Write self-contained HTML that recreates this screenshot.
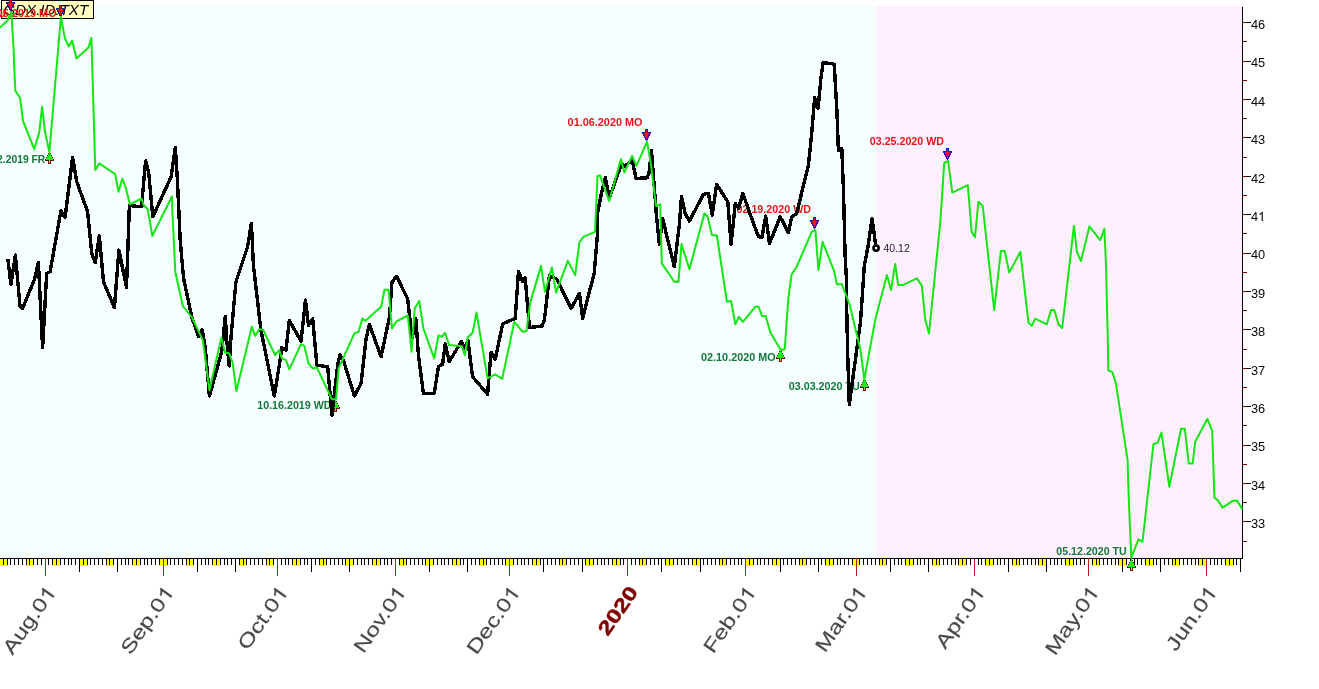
<!DOCTYPE html>
<html><head><meta charset="utf-8"><title>chart</title>
<style>
html,body{margin:0;padding:0;background:#fff;}
body{width:1319px;height:689px;position:relative;overflow:hidden;font-family:"Liberation Sans",sans-serif;}
svg{will-change:transform;}
svg text{font-family:"Liberation Sans",sans-serif;}
</style></head><body>
<svg width="1319" height="689" viewBox="0 0 1319 689" style="position:absolute;left:0;top:0">
<rect x="0" y="6" width="876" height="552" fill="#f5ffff"/>
<rect x="876" y="6" width="366" height="552" fill="#fff0ff"/>
<g shape-rendering="crispEdges">
<rect x="0" y="559" width="7" height="7" fill="#ffff00"/>
<rect x="26" y="559" width="7" height="7" fill="#ffff00"/>
<rect x="52" y="559" width="8" height="7" fill="#ffff00"/>
<rect x="79" y="559" width="8" height="7" fill="#ffff00"/>
<rect x="106" y="559" width="7" height="7" fill="#ffff00"/>
<rect x="132" y="559" width="8" height="7" fill="#ffff00"/>
<rect x="159" y="559" width="8" height="7" fill="#ffff00"/>
<rect x="186" y="559" width="7" height="7" fill="#ffff00"/>
<rect x="212" y="559" width="8" height="7" fill="#ffff00"/>
<rect x="239" y="559" width="7" height="7" fill="#ffff00"/>
<rect x="266" y="559" width="7" height="7" fill="#ffff00"/>
<rect x="292" y="559" width="8" height="7" fill="#ffff00"/>
<rect x="319" y="559" width="7" height="7" fill="#ffff00"/>
<rect x="345" y="559" width="8" height="7" fill="#ffff00"/>
<rect x="372" y="559" width="8" height="7" fill="#ffff00"/>
<rect x="399" y="559" width="7" height="7" fill="#ffff00"/>
<rect x="425" y="559" width="8" height="7" fill="#ffff00"/>
<rect x="452" y="559" width="8" height="7" fill="#ffff00"/>
<rect x="479" y="559" width="7" height="7" fill="#ffff00"/>
<rect x="505" y="559" width="8" height="7" fill="#ffff00"/>
<rect x="532" y="559" width="8" height="7" fill="#ffff00"/>
<rect x="559" y="559" width="7" height="7" fill="#ffff00"/>
<rect x="585" y="559" width="8" height="7" fill="#ffff00"/>
<rect x="612" y="559" width="8" height="7" fill="#ffff00"/>
<rect x="639" y="559" width="7" height="7" fill="#ffff00"/>
<rect x="665" y="559" width="8" height="7" fill="#ffff00"/>
<rect x="692" y="559" width="8" height="7" fill="#ffff00"/>
<rect x="719" y="559" width="7" height="7" fill="#ffff00"/>
<rect x="745" y="559" width="8" height="7" fill="#ffff00"/>
<rect x="772" y="559" width="8" height="7" fill="#ffff00"/>
<rect x="799" y="559" width="7" height="7" fill="#ffff00"/>
<rect x="825" y="559" width="8" height="7" fill="#ffff00"/>
<rect x="852" y="559" width="7" height="7" fill="#ffff00"/>
<rect x="879" y="559" width="7" height="7" fill="#ffff00"/>
<rect x="905" y="559" width="8" height="7" fill="#ffff00"/>
<rect x="932" y="559" width="7" height="7" fill="#ffff00"/>
<rect x="958" y="559" width="8" height="7" fill="#ffff00"/>
<rect x="985" y="559" width="8" height="7" fill="#ffff00"/>
<rect x="1012" y="559" width="7" height="7" fill="#ffff00"/>
<rect x="1038" y="559" width="8" height="7" fill="#ffff00"/>
<rect x="1065" y="559" width="8" height="7" fill="#ffff00"/>
<rect x="1092" y="559" width="7" height="7" fill="#ffff00"/>
<rect x="1118" y="559" width="8" height="7" fill="#ffff00"/>
<rect x="1145" y="559" width="8" height="7" fill="#ffff00"/>
<rect x="1172" y="559" width="7" height="7" fill="#ffff00"/>
<rect x="1198" y="559" width="8" height="7" fill="#ffff00"/>
<rect x="1225" y="559" width="8" height="7" fill="#ffff00"/>
<rect x="0" y="558" width="1242" height="1" fill="#000"/>
<rect x="3" y="558" width="1" height="7" fill="#000"/>
<rect x="7" y="558" width="1" height="7" fill="#000"/>
<rect x="10" y="558" width="1" height="7" fill="#000"/>
<rect x="14" y="558" width="1" height="7" fill="#000"/>
<rect x="18" y="558" width="1" height="7" fill="#000"/>
<rect x="22" y="558" width="1" height="7" fill="#000"/>
<rect x="26" y="558" width="1" height="7" fill="#000"/>
<rect x="29" y="558" width="1" height="7" fill="#000"/>
<rect x="33" y="558" width="1" height="7" fill="#000"/>
<rect x="37" y="558" width="1" height="7" fill="#000"/>
<rect x="41" y="558" width="1" height="7" fill="#000"/>
<rect x="45" y="558" width="1" height="18" fill="#b22222"/>
<rect x="48" y="558" width="1" height="7" fill="#000"/>
<rect x="52" y="558" width="1" height="7" fill="#000"/>
<rect x="56" y="558" width="1" height="7" fill="#000"/>
<rect x="60" y="558" width="1" height="7" fill="#000"/>
<rect x="64" y="558" width="1" height="7" fill="#000"/>
<rect x="68" y="558" width="1" height="7" fill="#000"/>
<rect x="71" y="558" width="1" height="7" fill="#000"/>
<rect x="75" y="558" width="1" height="7" fill="#000"/>
<rect x="79" y="558" width="1" height="14" fill="#000"/>
<rect x="83" y="558" width="1" height="7" fill="#000"/>
<rect x="87" y="558" width="1" height="7" fill="#000"/>
<rect x="90" y="558" width="1" height="7" fill="#000"/>
<rect x="94" y="558" width="1" height="7" fill="#000"/>
<rect x="98" y="558" width="1" height="7" fill="#000"/>
<rect x="102" y="558" width="1" height="7" fill="#000"/>
<rect x="106" y="558" width="1" height="7" fill="#000"/>
<rect x="109" y="558" width="1" height="7" fill="#000"/>
<rect x="113" y="558" width="1" height="7" fill="#000"/>
<rect x="117" y="558" width="1" height="14" fill="#000"/>
<rect x="121" y="558" width="1" height="7" fill="#000"/>
<rect x="125" y="558" width="1" height="7" fill="#000"/>
<rect x="128" y="558" width="1" height="7" fill="#000"/>
<rect x="132" y="558" width="1" height="7" fill="#000"/>
<rect x="136" y="558" width="1" height="7" fill="#000"/>
<rect x="140" y="558" width="1" height="7" fill="#000"/>
<rect x="144" y="558" width="1" height="7" fill="#000"/>
<rect x="147" y="558" width="1" height="7" fill="#000"/>
<rect x="151" y="558" width="1" height="7" fill="#000"/>
<rect x="155" y="558" width="1" height="7" fill="#000"/>
<rect x="159" y="558" width="1" height="7" fill="#000"/>
<rect x="163" y="558" width="1" height="18" fill="#b22222"/>
<rect x="167" y="558" width="1" height="7" fill="#000"/>
<rect x="170" y="558" width="1" height="7" fill="#000"/>
<rect x="174" y="558" width="1" height="7" fill="#000"/>
<rect x="178" y="558" width="1" height="7" fill="#000"/>
<rect x="182" y="558" width="1" height="7" fill="#000"/>
<rect x="186" y="558" width="1" height="7" fill="#000"/>
<rect x="189" y="558" width="1" height="7" fill="#000"/>
<rect x="193" y="558" width="1" height="7" fill="#000"/>
<rect x="197" y="558" width="1" height="14" fill="#000"/>
<rect x="201" y="558" width="1" height="7" fill="#000"/>
<rect x="205" y="558" width="1" height="7" fill="#000"/>
<rect x="208" y="558" width="1" height="7" fill="#000"/>
<rect x="212" y="558" width="1" height="7" fill="#000"/>
<rect x="216" y="558" width="1" height="7" fill="#000"/>
<rect x="220" y="558" width="1" height="7" fill="#000"/>
<rect x="224" y="558" width="1" height="7" fill="#000"/>
<rect x="227" y="558" width="1" height="7" fill="#000"/>
<rect x="231" y="558" width="1" height="7" fill="#000"/>
<rect x="235" y="558" width="1" height="14" fill="#000"/>
<rect x="239" y="558" width="1" height="7" fill="#000"/>
<rect x="243" y="558" width="1" height="7" fill="#000"/>
<rect x="246" y="558" width="1" height="7" fill="#000"/>
<rect x="250" y="558" width="1" height="7" fill="#000"/>
<rect x="254" y="558" width="1" height="7" fill="#000"/>
<rect x="258" y="558" width="1" height="7" fill="#000"/>
<rect x="262" y="558" width="1" height="7" fill="#000"/>
<rect x="266" y="558" width="1" height="7" fill="#000"/>
<rect x="269" y="558" width="1" height="7" fill="#000"/>
<rect x="273" y="558" width="1" height="7" fill="#000"/>
<rect x="277" y="558" width="1" height="18" fill="#b22222"/>
<rect x="281" y="558" width="1" height="7" fill="#000"/>
<rect x="285" y="558" width="1" height="7" fill="#000"/>
<rect x="288" y="558" width="1" height="7" fill="#000"/>
<rect x="292" y="558" width="1" height="7" fill="#000"/>
<rect x="296" y="558" width="1" height="7" fill="#000"/>
<rect x="300" y="558" width="1" height="7" fill="#000"/>
<rect x="304" y="558" width="1" height="7" fill="#000"/>
<rect x="307" y="558" width="1" height="7" fill="#000"/>
<rect x="311" y="558" width="1" height="14" fill="#000"/>
<rect x="315" y="558" width="1" height="7" fill="#000"/>
<rect x="319" y="558" width="1" height="7" fill="#000"/>
<rect x="323" y="558" width="1" height="7" fill="#000"/>
<rect x="326" y="558" width="1" height="7" fill="#000"/>
<rect x="330" y="558" width="1" height="7" fill="#000"/>
<rect x="334" y="558" width="1" height="7" fill="#000"/>
<rect x="338" y="558" width="1" height="7" fill="#000"/>
<rect x="342" y="558" width="1" height="7" fill="#000"/>
<rect x="345" y="558" width="1" height="7" fill="#000"/>
<rect x="349" y="558" width="1" height="14" fill="#000"/>
<rect x="353" y="558" width="1" height="7" fill="#000"/>
<rect x="357" y="558" width="1" height="7" fill="#000"/>
<rect x="361" y="558" width="1" height="7" fill="#000"/>
<rect x="364" y="558" width="1" height="7" fill="#000"/>
<rect x="368" y="558" width="1" height="7" fill="#000"/>
<rect x="372" y="558" width="1" height="7" fill="#000"/>
<rect x="376" y="558" width="1" height="7" fill="#000"/>
<rect x="380" y="558" width="1" height="7" fill="#000"/>
<rect x="384" y="558" width="1" height="7" fill="#000"/>
<rect x="387" y="558" width="1" height="7" fill="#000"/>
<rect x="391" y="558" width="1" height="7" fill="#000"/>
<rect x="395" y="558" width="1" height="18" fill="#b22222"/>
<rect x="399" y="558" width="1" height="7" fill="#000"/>
<rect x="403" y="558" width="1" height="7" fill="#000"/>
<rect x="406" y="558" width="1" height="7" fill="#000"/>
<rect x="410" y="558" width="1" height="7" fill="#000"/>
<rect x="414" y="558" width="1" height="7" fill="#000"/>
<rect x="418" y="558" width="1" height="7" fill="#000"/>
<rect x="422" y="558" width="1" height="7" fill="#000"/>
<rect x="425" y="558" width="1" height="7" fill="#000"/>
<rect x="429" y="558" width="1" height="14" fill="#000"/>
<rect x="433" y="558" width="1" height="7" fill="#000"/>
<rect x="437" y="558" width="1" height="7" fill="#000"/>
<rect x="441" y="558" width="1" height="7" fill="#000"/>
<rect x="444" y="558" width="1" height="7" fill="#000"/>
<rect x="448" y="558" width="1" height="7" fill="#000"/>
<rect x="452" y="558" width="1" height="7" fill="#000"/>
<rect x="456" y="558" width="1" height="7" fill="#000"/>
<rect x="460" y="558" width="1" height="7" fill="#000"/>
<rect x="463" y="558" width="1" height="7" fill="#000"/>
<rect x="467" y="558" width="1" height="14" fill="#000"/>
<rect x="471" y="558" width="1" height="7" fill="#000"/>
<rect x="475" y="558" width="1" height="7" fill="#000"/>
<rect x="479" y="558" width="1" height="7" fill="#000"/>
<rect x="483" y="558" width="1" height="7" fill="#000"/>
<rect x="486" y="558" width="1" height="7" fill="#000"/>
<rect x="490" y="558" width="1" height="7" fill="#000"/>
<rect x="494" y="558" width="1" height="7" fill="#000"/>
<rect x="498" y="558" width="1" height="7" fill="#000"/>
<rect x="502" y="558" width="1" height="7" fill="#000"/>
<rect x="505" y="558" width="1" height="7" fill="#000"/>
<rect x="509" y="558" width="1" height="18" fill="#b22222"/>
<rect x="513" y="558" width="1" height="7" fill="#000"/>
<rect x="517" y="558" width="1" height="7" fill="#000"/>
<rect x="521" y="558" width="1" height="7" fill="#000"/>
<rect x="524" y="558" width="1" height="7" fill="#000"/>
<rect x="528" y="558" width="1" height="7" fill="#000"/>
<rect x="532" y="558" width="1" height="7" fill="#000"/>
<rect x="536" y="558" width="1" height="7" fill="#000"/>
<rect x="540" y="558" width="1" height="7" fill="#000"/>
<rect x="543" y="558" width="1" height="14" fill="#000"/>
<rect x="547" y="558" width="1" height="7" fill="#000"/>
<rect x="551" y="558" width="1" height="7" fill="#000"/>
<rect x="555" y="558" width="1" height="7" fill="#000"/>
<rect x="559" y="558" width="1" height="7" fill="#000"/>
<rect x="562" y="558" width="1" height="7" fill="#000"/>
<rect x="566" y="558" width="1" height="7" fill="#000"/>
<rect x="570" y="558" width="1" height="7" fill="#000"/>
<rect x="574" y="558" width="1" height="7" fill="#000"/>
<rect x="578" y="558" width="1" height="7" fill="#000"/>
<rect x="582" y="558" width="1" height="14" fill="#000"/>
<rect x="585" y="558" width="1" height="7" fill="#000"/>
<rect x="589" y="558" width="1" height="7" fill="#000"/>
<rect x="593" y="558" width="1" height="7" fill="#000"/>
<rect x="597" y="558" width="1" height="7" fill="#000"/>
<rect x="601" y="558" width="1" height="7" fill="#000"/>
<rect x="604" y="558" width="1" height="7" fill="#000"/>
<rect x="608" y="558" width="1" height="7" fill="#000"/>
<rect x="612" y="558" width="1" height="7" fill="#000"/>
<rect x="616" y="558" width="1" height="7" fill="#000"/>
<rect x="620" y="558" width="1" height="7" fill="#000"/>
<rect x="623" y="558" width="1" height="7" fill="#000"/>
<rect x="627" y="558" width="1" height="18" fill="#b22222"/>
<rect x="631" y="558" width="1" height="7" fill="#000"/>
<rect x="635" y="558" width="1" height="7" fill="#000"/>
<rect x="639" y="558" width="1" height="7" fill="#000"/>
<rect x="642" y="558" width="1" height="7" fill="#000"/>
<rect x="646" y="558" width="1" height="7" fill="#000"/>
<rect x="650" y="558" width="1" height="7" fill="#000"/>
<rect x="654" y="558" width="1" height="7" fill="#000"/>
<rect x="658" y="558" width="1" height="7" fill="#000"/>
<rect x="661" y="558" width="1" height="14" fill="#000"/>
<rect x="665" y="558" width="1" height="7" fill="#000"/>
<rect x="669" y="558" width="1" height="7" fill="#000"/>
<rect x="673" y="558" width="1" height="7" fill="#000"/>
<rect x="677" y="558" width="1" height="7" fill="#000"/>
<rect x="681" y="558" width="1" height="7" fill="#000"/>
<rect x="684" y="558" width="1" height="7" fill="#000"/>
<rect x="688" y="558" width="1" height="7" fill="#000"/>
<rect x="692" y="558" width="1" height="7" fill="#000"/>
<rect x="696" y="558" width="1" height="7" fill="#000"/>
<rect x="700" y="558" width="1" height="14" fill="#000"/>
<rect x="703" y="558" width="1" height="7" fill="#000"/>
<rect x="707" y="558" width="1" height="7" fill="#000"/>
<rect x="711" y="558" width="1" height="7" fill="#000"/>
<rect x="715" y="558" width="1" height="7" fill="#000"/>
<rect x="719" y="558" width="1" height="7" fill="#000"/>
<rect x="722" y="558" width="1" height="7" fill="#000"/>
<rect x="726" y="558" width="1" height="7" fill="#000"/>
<rect x="730" y="558" width="1" height="7" fill="#000"/>
<rect x="734" y="558" width="1" height="7" fill="#000"/>
<rect x="738" y="558" width="1" height="7" fill="#000"/>
<rect x="741" y="558" width="1" height="7" fill="#000"/>
<rect x="745" y="558" width="1" height="18" fill="#b22222"/>
<rect x="749" y="558" width="1" height="7" fill="#000"/>
<rect x="753" y="558" width="1" height="7" fill="#000"/>
<rect x="757" y="558" width="1" height="7" fill="#000"/>
<rect x="760" y="558" width="1" height="7" fill="#000"/>
<rect x="764" y="558" width="1" height="7" fill="#000"/>
<rect x="768" y="558" width="1" height="7" fill="#000"/>
<rect x="772" y="558" width="1" height="7" fill="#000"/>
<rect x="776" y="558" width="1" height="7" fill="#000"/>
<rect x="780" y="558" width="1" height="14" fill="#000"/>
<rect x="783" y="558" width="1" height="7" fill="#000"/>
<rect x="787" y="558" width="1" height="7" fill="#000"/>
<rect x="791" y="558" width="1" height="7" fill="#000"/>
<rect x="795" y="558" width="1" height="7" fill="#000"/>
<rect x="799" y="558" width="1" height="7" fill="#000"/>
<rect x="802" y="558" width="1" height="7" fill="#000"/>
<rect x="806" y="558" width="1" height="7" fill="#000"/>
<rect x="810" y="558" width="1" height="7" fill="#000"/>
<rect x="814" y="558" width="1" height="7" fill="#000"/>
<rect x="818" y="558" width="1" height="14" fill="#000"/>
<rect x="821" y="558" width="1" height="7" fill="#000"/>
<rect x="825" y="558" width="1" height="7" fill="#000"/>
<rect x="829" y="558" width="1" height="7" fill="#000"/>
<rect x="833" y="558" width="1" height="7" fill="#000"/>
<rect x="837" y="558" width="1" height="7" fill="#000"/>
<rect x="840" y="558" width="1" height="7" fill="#000"/>
<rect x="844" y="558" width="1" height="7" fill="#000"/>
<rect x="848" y="558" width="1" height="7" fill="#000"/>
<rect x="852" y="558" width="1" height="7" fill="#000"/>
<rect x="856" y="558" width="1" height="18" fill="#b22222"/>
<rect x="859" y="558" width="1" height="7" fill="#000"/>
<rect x="863" y="558" width="1" height="7" fill="#000"/>
<rect x="867" y="558" width="1" height="7" fill="#000"/>
<rect x="871" y="558" width="1" height="7" fill="#000"/>
<rect x="875" y="558" width="1" height="7" fill="#000"/>
<rect x="879" y="558" width="1" height="7" fill="#000"/>
<rect x="882" y="558" width="1" height="7" fill="#000"/>
<rect x="886" y="558" width="1" height="7" fill="#000"/>
<rect x="890" y="558" width="1" height="14" fill="#000"/>
<rect x="894" y="558" width="1" height="7" fill="#000"/>
<rect x="898" y="558" width="1" height="7" fill="#000"/>
<rect x="901" y="558" width="1" height="7" fill="#000"/>
<rect x="905" y="558" width="1" height="7" fill="#000"/>
<rect x="909" y="558" width="1" height="7" fill="#000"/>
<rect x="913" y="558" width="1" height="7" fill="#000"/>
<rect x="917" y="558" width="1" height="7" fill="#000"/>
<rect x="920" y="558" width="1" height="7" fill="#000"/>
<rect x="924" y="558" width="1" height="7" fill="#000"/>
<rect x="928" y="558" width="1" height="14" fill="#000"/>
<rect x="932" y="558" width="1" height="7" fill="#000"/>
<rect x="936" y="558" width="1" height="7" fill="#000"/>
<rect x="939" y="558" width="1" height="7" fill="#000"/>
<rect x="943" y="558" width="1" height="7" fill="#000"/>
<rect x="947" y="558" width="1" height="7" fill="#000"/>
<rect x="951" y="558" width="1" height="7" fill="#000"/>
<rect x="955" y="558" width="1" height="7" fill="#000"/>
<rect x="958" y="558" width="1" height="7" fill="#000"/>
<rect x="962" y="558" width="1" height="7" fill="#000"/>
<rect x="966" y="558" width="1" height="7" fill="#000"/>
<rect x="970" y="558" width="1" height="7" fill="#000"/>
<rect x="974" y="558" width="1" height="18" fill="#b22222"/>
<rect x="978" y="558" width="1" height="7" fill="#000"/>
<rect x="981" y="558" width="1" height="7" fill="#000"/>
<rect x="985" y="558" width="1" height="7" fill="#000"/>
<rect x="989" y="558" width="1" height="7" fill="#000"/>
<rect x="993" y="558" width="1" height="7" fill="#000"/>
<rect x="997" y="558" width="1" height="7" fill="#000"/>
<rect x="1000" y="558" width="1" height="7" fill="#000"/>
<rect x="1004" y="558" width="1" height="7" fill="#000"/>
<rect x="1008" y="558" width="1" height="14" fill="#000"/>
<rect x="1012" y="558" width="1" height="7" fill="#000"/>
<rect x="1016" y="558" width="1" height="7" fill="#000"/>
<rect x="1019" y="558" width="1" height="7" fill="#000"/>
<rect x="1023" y="558" width="1" height="7" fill="#000"/>
<rect x="1027" y="558" width="1" height="7" fill="#000"/>
<rect x="1031" y="558" width="1" height="7" fill="#000"/>
<rect x="1035" y="558" width="1" height="7" fill="#000"/>
<rect x="1038" y="558" width="1" height="7" fill="#000"/>
<rect x="1042" y="558" width="1" height="7" fill="#000"/>
<rect x="1046" y="558" width="1" height="14" fill="#000"/>
<rect x="1050" y="558" width="1" height="7" fill="#000"/>
<rect x="1054" y="558" width="1" height="7" fill="#000"/>
<rect x="1057" y="558" width="1" height="7" fill="#000"/>
<rect x="1061" y="558" width="1" height="7" fill="#000"/>
<rect x="1065" y="558" width="1" height="7" fill="#000"/>
<rect x="1069" y="558" width="1" height="7" fill="#000"/>
<rect x="1073" y="558" width="1" height="7" fill="#000"/>
<rect x="1076" y="558" width="1" height="7" fill="#000"/>
<rect x="1080" y="558" width="1" height="7" fill="#000"/>
<rect x="1084" y="558" width="1" height="7" fill="#000"/>
<rect x="1088" y="558" width="1" height="18" fill="#b22222"/>
<rect x="1092" y="558" width="1" height="7" fill="#000"/>
<rect x="1096" y="558" width="1" height="7" fill="#000"/>
<rect x="1099" y="558" width="1" height="7" fill="#000"/>
<rect x="1103" y="558" width="1" height="7" fill="#000"/>
<rect x="1107" y="558" width="1" height="7" fill="#000"/>
<rect x="1111" y="558" width="1" height="7" fill="#000"/>
<rect x="1115" y="558" width="1" height="7" fill="#000"/>
<rect x="1118" y="558" width="1" height="7" fill="#000"/>
<rect x="1122" y="558" width="1" height="14" fill="#000"/>
<rect x="1126" y="558" width="1" height="7" fill="#000"/>
<rect x="1130" y="558" width="1" height="7" fill="#000"/>
<rect x="1134" y="558" width="1" height="7" fill="#000"/>
<rect x="1137" y="558" width="1" height="7" fill="#000"/>
<rect x="1141" y="558" width="1" height="7" fill="#000"/>
<rect x="1145" y="558" width="1" height="7" fill="#000"/>
<rect x="1149" y="558" width="1" height="7" fill="#000"/>
<rect x="1153" y="558" width="1" height="7" fill="#000"/>
<rect x="1156" y="558" width="1" height="7" fill="#000"/>
<rect x="1160" y="558" width="1" height="14" fill="#000"/>
<rect x="1164" y="558" width="1" height="7" fill="#000"/>
<rect x="1168" y="558" width="1" height="7" fill="#000"/>
<rect x="1172" y="558" width="1" height="7" fill="#000"/>
<rect x="1175" y="558" width="1" height="7" fill="#000"/>
<rect x="1179" y="558" width="1" height="7" fill="#000"/>
<rect x="1183" y="558" width="1" height="7" fill="#000"/>
<rect x="1187" y="558" width="1" height="7" fill="#000"/>
<rect x="1191" y="558" width="1" height="7" fill="#000"/>
<rect x="1195" y="558" width="1" height="7" fill="#000"/>
<rect x="1198" y="558" width="1" height="7" fill="#000"/>
<rect x="1202" y="558" width="1" height="7" fill="#000"/>
<rect x="1206" y="558" width="1" height="18" fill="#b22222"/>
<rect x="1210" y="558" width="1" height="7" fill="#000"/>
<rect x="1214" y="558" width="1" height="7" fill="#000"/>
<rect x="1217" y="558" width="1" height="7" fill="#000"/>
<rect x="1221" y="558" width="1" height="7" fill="#000"/>
<rect x="1225" y="558" width="1" height="7" fill="#000"/>
<rect x="1229" y="558" width="1" height="7" fill="#000"/>
<rect x="1233" y="558" width="1" height="7" fill="#000"/>
<rect x="1236" y="558" width="1" height="7" fill="#000"/>
<rect x="1240" y="558" width="1" height="14" fill="#000"/>
<rect x="1242" y="7" width="1" height="552" fill="#000"/>
<rect x="1243" y="541" width="4" height="1" fill="#900000"/>
<rect x="1243" y="521" width="8" height="1" fill="#100000"/><rect x="1243" y="521" width="3" height="1" fill="#900000"/>
<rect x="1243" y="502" width="4" height="1" fill="#900000"/>
<rect x="1243" y="483" width="8" height="1" fill="#100000"/><rect x="1243" y="483" width="3" height="1" fill="#900000"/>
<rect x="1243" y="464" width="4" height="1" fill="#900000"/>
<rect x="1243" y="445" width="8" height="1" fill="#100000"/><rect x="1243" y="445" width="3" height="1" fill="#900000"/>
<rect x="1243" y="425" width="4" height="1" fill="#900000"/>
<rect x="1243" y="406" width="8" height="1" fill="#100000"/><rect x="1243" y="406" width="3" height="1" fill="#900000"/>
<rect x="1243" y="387" width="4" height="1" fill="#900000"/>
<rect x="1243" y="368" width="8" height="1" fill="#100000"/><rect x="1243" y="368" width="3" height="1" fill="#900000"/>
<rect x="1243" y="349" width="4" height="1" fill="#900000"/>
<rect x="1243" y="329" width="8" height="1" fill="#100000"/><rect x="1243" y="329" width="3" height="1" fill="#900000"/>
<rect x="1243" y="310" width="4" height="1" fill="#900000"/>
<rect x="1243" y="291" width="8" height="1" fill="#100000"/><rect x="1243" y="291" width="3" height="1" fill="#900000"/>
<rect x="1243" y="272" width="4" height="1" fill="#900000"/>
<rect x="1243" y="253" width="8" height="1" fill="#100000"/><rect x="1243" y="253" width="3" height="1" fill="#900000"/>
<rect x="1243" y="233" width="4" height="1" fill="#900000"/>
<rect x="1243" y="214" width="8" height="1" fill="#100000"/><rect x="1243" y="214" width="3" height="1" fill="#900000"/>
<rect x="1243" y="195" width="4" height="1" fill="#900000"/>
<rect x="1243" y="176" width="8" height="1" fill="#100000"/><rect x="1243" y="176" width="3" height="1" fill="#900000"/>
<rect x="1243" y="157" width="4" height="1" fill="#900000"/>
<rect x="1243" y="137" width="8" height="1" fill="#100000"/><rect x="1243" y="137" width="3" height="1" fill="#900000"/>
<rect x="1243" y="118" width="4" height="1" fill="#900000"/>
<rect x="1243" y="99" width="8" height="1" fill="#100000"/><rect x="1243" y="99" width="3" height="1" fill="#900000"/>
<rect x="1243" y="80" width="4" height="1" fill="#900000"/>
<rect x="1243" y="61" width="8" height="1" fill="#100000"/><rect x="1243" y="61" width="3" height="1" fill="#900000"/>
<rect x="1243" y="41" width="4" height="1" fill="#900000"/>
<rect x="1243" y="22" width="8" height="1" fill="#100000"/><rect x="1243" y="22" width="3" height="1" fill="#900000"/>
</g>
<text x="1250.9" y="528.1" font-size="12.8" fill="#060606">33</text>
<text x="1250.9" y="489.7" font-size="12.8" fill="#060606">34</text>
<text x="1250.9" y="451.3" font-size="12.8" fill="#060606">35</text>
<text x="1250.9" y="412.9" font-size="12.8" fill="#060606">36</text>
<text x="1250.9" y="374.5" font-size="12.8" fill="#060606">37</text>
<text x="1250.9" y="336.1" font-size="12.8" fill="#060606">38</text>
<text x="1250.9" y="297.7" font-size="12.8" fill="#060606">39</text>
<text x="1250.9" y="259.3" font-size="12.8" fill="#060606">40</text>
<text x="1250.9" y="220.9" font-size="12.8" fill="#060606">4</text>
<path transform="translate(1258.02,220.9) scale(0.006250,-0.006250)" fill="#060606" d="M763 0H583V1147Q518 1085 412.5 1023T223 930V1104Q373 1174.5 485.5 1275T645 1470H763Z"/>
<text x="1250.9" y="182.6" font-size="12.8" fill="#060606">42</text>
<text x="1250.9" y="144.2" font-size="12.8" fill="#060606">43</text>
<text x="1250.9" y="105.8" font-size="12.8" fill="#060606">44</text>
<text x="1250.9" y="67.4" font-size="12.8" fill="#060606">45</text>
<text x="1250.9" y="29.0" font-size="12.8" fill="#060606">46</text>
<g shape-rendering="crispEdges"><rect x="1" y="0" width="93" height="19" fill="#000"/><rect x="2" y="1" width="91" height="17" fill="#ffffc0"/></g>
<text transform="translate(3.5,14.9) scale(1,1.01)" font-size="15.1" font-style="italic" fill="#000">GDX.ID.TXT</text>
<g shape-rendering="crispEdges"><rect x="9" y="-1" width="3" height="1" fill="#2a10b8"/><rect x="9" y="0" width="3" height="1" fill="#2a10b8"/><rect x="10" y="0" width="1" height="1" fill="#ff0828"/><rect x="9" y="1" width="3" height="1" fill="#2a10b8"/><rect x="10" y="1" width="1" height="1" fill="#ff0828"/><rect x="6" y="2" width="9" height="1" fill="#2a10b8"/><rect x="10" y="2" width="1" height="1" fill="#ff0828"/><rect x="6" y="3" width="9" height="1" fill="#2a10b8"/><rect x="8" y="3" width="5" height="1" fill="#ff0828"/><rect x="7" y="4" width="7" height="1" fill="#2a10b8"/><rect x="8" y="4" width="5" height="1" fill="#ff0828"/><rect x="7" y="5" width="7" height="1" fill="#2a10b8"/><rect x="9" y="5" width="3" height="1" fill="#ff0828"/><rect x="8" y="6" width="5" height="1" fill="#2a10b8"/><rect x="9" y="6" width="3" height="1" fill="#ff0828"/><rect x="8" y="7" width="5" height="1" fill="#2a10b8"/><rect x="10" y="7" width="1" height="1" fill="#ff0828"/><rect x="9" y="8" width="3" height="1" fill="#2a10b8"/><rect x="10" y="8" width="1" height="1" fill="#ff0828"/><rect x="9" y="9" width="3" height="1" fill="#2a10b8"/><rect x="10" y="10" width="1" height="1" fill="#2a10b8"/></g>
<text x="-67.9" y="17.0" textLength="74.1" lengthAdjust="spacingAndGlyphs" font-size="10.4" font-weight="bold" fill="#e01818">07.23.2019 TU</text>
<g shape-rendering="crispEdges"><rect x="59" y="5" width="3" height="1" fill="#2a10b8"/><rect x="59" y="6" width="3" height="1" fill="#2a10b8"/><rect x="60" y="6" width="1" height="1" fill="#ff0828"/><rect x="59" y="7" width="3" height="1" fill="#2a10b8"/><rect x="60" y="7" width="1" height="1" fill="#ff0828"/><rect x="56" y="8" width="9" height="1" fill="#2a10b8"/><rect x="60" y="8" width="1" height="1" fill="#ff0828"/><rect x="56" y="9" width="9" height="1" fill="#2a10b8"/><rect x="58" y="9" width="5" height="1" fill="#ff0828"/><rect x="57" y="10" width="7" height="1" fill="#2a10b8"/><rect x="58" y="10" width="5" height="1" fill="#ff0828"/><rect x="57" y="11" width="7" height="1" fill="#2a10b8"/><rect x="59" y="11" width="3" height="1" fill="#ff0828"/><rect x="58" y="12" width="5" height="1" fill="#2a10b8"/><rect x="59" y="12" width="3" height="1" fill="#ff0828"/><rect x="58" y="13" width="5" height="1" fill="#2a10b8"/><rect x="60" y="13" width="1" height="1" fill="#ff0828"/><rect x="59" y="14" width="3" height="1" fill="#2a10b8"/><rect x="60" y="14" width="1" height="1" fill="#ff0828"/><rect x="59" y="15" width="3" height="1" fill="#2a10b8"/><rect x="60" y="16" width="1" height="1" fill="#2a10b8"/></g>
<text x="-18.3" y="17.0" textLength="74.9" lengthAdjust="spacingAndGlyphs" font-size="10.4" font-weight="bold" fill="#e01818">08.05.2019 MO</text>
<g shape-rendering="crispEdges"><rect x="645" y="129" width="3" height="1" fill="#2a10b8"/><rect x="645" y="130" width="3" height="1" fill="#2a10b8"/><rect x="646" y="130" width="1" height="1" fill="#ff0828"/><rect x="645" y="131" width="3" height="1" fill="#2a10b8"/><rect x="646" y="131" width="1" height="1" fill="#ff0828"/><rect x="642" y="132" width="9" height="1" fill="#2a10b8"/><rect x="646" y="132" width="1" height="1" fill="#ff0828"/><rect x="642" y="133" width="9" height="1" fill="#2a10b8"/><rect x="644" y="133" width="5" height="1" fill="#ff0828"/><rect x="643" y="134" width="7" height="1" fill="#2a10b8"/><rect x="644" y="134" width="5" height="1" fill="#ff0828"/><rect x="643" y="135" width="7" height="1" fill="#2a10b8"/><rect x="645" y="135" width="3" height="1" fill="#ff0828"/><rect x="644" y="136" width="5" height="1" fill="#2a10b8"/><rect x="645" y="136" width="3" height="1" fill="#ff0828"/><rect x="644" y="137" width="5" height="1" fill="#2a10b8"/><rect x="646" y="137" width="1" height="1" fill="#ff0828"/><rect x="645" y="138" width="3" height="1" fill="#2a10b8"/><rect x="646" y="138" width="1" height="1" fill="#ff0828"/><rect x="645" y="139" width="3" height="1" fill="#2a10b8"/><rect x="646" y="140" width="1" height="1" fill="#2a10b8"/></g>
<text x="567.6" y="125.6" textLength="74.9" lengthAdjust="spacingAndGlyphs" font-size="10.4" font-weight="bold" fill="#e01818">01.06.2020 MO</text>
<g shape-rendering="crispEdges"><rect x="813" y="217" width="3" height="1" fill="#2a10b8"/><rect x="813" y="218" width="3" height="1" fill="#2a10b8"/><rect x="814" y="218" width="1" height="1" fill="#ff0828"/><rect x="813" y="219" width="3" height="1" fill="#2a10b8"/><rect x="814" y="219" width="1" height="1" fill="#ff0828"/><rect x="810" y="220" width="9" height="1" fill="#2a10b8"/><rect x="814" y="220" width="1" height="1" fill="#ff0828"/><rect x="810" y="221" width="9" height="1" fill="#2a10b8"/><rect x="812" y="221" width="5" height="1" fill="#ff0828"/><rect x="811" y="222" width="7" height="1" fill="#2a10b8"/><rect x="812" y="222" width="5" height="1" fill="#ff0828"/><rect x="811" y="223" width="7" height="1" fill="#2a10b8"/><rect x="813" y="223" width="3" height="1" fill="#ff0828"/><rect x="812" y="224" width="5" height="1" fill="#2a10b8"/><rect x="813" y="224" width="3" height="1" fill="#ff0828"/><rect x="812" y="225" width="5" height="1" fill="#2a10b8"/><rect x="814" y="225" width="1" height="1" fill="#ff0828"/><rect x="813" y="226" width="3" height="1" fill="#2a10b8"/><rect x="814" y="226" width="1" height="1" fill="#ff0828"/><rect x="813" y="227" width="3" height="1" fill="#2a10b8"/><rect x="814" y="228" width="1" height="1" fill="#2a10b8"/></g>
<text x="736.5" y="213.4" textLength="74.5" lengthAdjust="spacingAndGlyphs" font-size="10.4" font-weight="bold" fill="#e01818">02.19.2020 WD</text>
<g shape-rendering="crispEdges"><rect x="946" y="148" width="3" height="1" fill="#2a10b8"/><rect x="946" y="149" width="3" height="1" fill="#2a10b8"/><rect x="947" y="149" width="1" height="1" fill="#ff0828"/><rect x="946" y="150" width="3" height="1" fill="#2a10b8"/><rect x="947" y="150" width="1" height="1" fill="#ff0828"/><rect x="943" y="151" width="9" height="1" fill="#2a10b8"/><rect x="947" y="151" width="1" height="1" fill="#ff0828"/><rect x="943" y="152" width="9" height="1" fill="#2a10b8"/><rect x="945" y="152" width="5" height="1" fill="#ff0828"/><rect x="944" y="153" width="7" height="1" fill="#2a10b8"/><rect x="945" y="153" width="5" height="1" fill="#ff0828"/><rect x="944" y="154" width="7" height="1" fill="#2a10b8"/><rect x="946" y="154" width="3" height="1" fill="#ff0828"/><rect x="945" y="155" width="5" height="1" fill="#2a10b8"/><rect x="946" y="155" width="3" height="1" fill="#ff0828"/><rect x="945" y="156" width="5" height="1" fill="#2a10b8"/><rect x="947" y="156" width="1" height="1" fill="#ff0828"/><rect x="946" y="157" width="3" height="1" fill="#2a10b8"/><rect x="947" y="157" width="1" height="1" fill="#ff0828"/><rect x="946" y="158" width="3" height="1" fill="#2a10b8"/><rect x="947" y="159" width="1" height="1" fill="#2a10b8"/></g>
<text x="869.8" y="144.8" textLength="74.2" lengthAdjust="spacingAndGlyphs" font-size="10.4" font-weight="bold" fill="#e01818">03.25.2020 WD</text>
<g shape-rendering="crispEdges"><rect x="48" y="163" width="3" height="1" fill="#801000"/><rect x="48" y="162" width="3" height="1" fill="#801000"/><rect x="49" y="162" width="1" height="1" fill="#e0c878"/><rect x="48" y="161" width="3" height="1" fill="#801000"/><rect x="49" y="161" width="1" height="1" fill="#e0c878"/><rect x="45" y="160" width="9" height="1" fill="#701000"/><rect x="49" y="160" width="1" height="1" fill="#1cf01c"/><rect x="45" y="159" width="9" height="1" fill="#1cf01c"/><rect x="45" y="159" width="1" height="1" fill="#4a2000"/><rect x="53" y="159" width="1" height="1" fill="#4a2000"/><rect x="46" y="158" width="7" height="1" fill="#1cf01c"/><rect x="46" y="157" width="7" height="1" fill="#1cf01c"/><rect x="46" y="157" width="1" height="1" fill="#4a2000"/><rect x="52" y="157" width="1" height="1" fill="#4a2000"/><rect x="47" y="156" width="5" height="1" fill="#1cf01c"/><rect x="47" y="155" width="5" height="1" fill="#1cf01c"/><rect x="47" y="155" width="1" height="1" fill="#4a2000"/><rect x="51" y="155" width="1" height="1" fill="#4a2000"/><rect x="48" y="154" width="3" height="1" fill="#1cf01c"/><rect x="48" y="153" width="3" height="1" fill="#1cf01c"/><rect x="48" y="153" width="1" height="1" fill="#4a2000"/><rect x="50" y="153" width="1" height="1" fill="#4a2000"/><rect x="49" y="152" width="1" height="1" fill="#1cf01c"/></g>
<text x="-23.1" y="162.7" textLength="68.4" lengthAdjust="spacingAndGlyphs" font-size="10.4" font-weight="bold" fill="#14783a">08.02.2019 FR</text>
<g shape-rendering="crispEdges"><rect x="334" y="411" width="3" height="1" fill="#801000"/><rect x="334" y="410" width="3" height="1" fill="#801000"/><rect x="335" y="410" width="1" height="1" fill="#e0c878"/><rect x="334" y="409" width="3" height="1" fill="#801000"/><rect x="335" y="409" width="1" height="1" fill="#e0c878"/><rect x="331" y="408" width="9" height="1" fill="#701000"/><rect x="335" y="408" width="1" height="1" fill="#1cf01c"/><rect x="331" y="407" width="9" height="1" fill="#1cf01c"/><rect x="331" y="407" width="1" height="1" fill="#4a2000"/><rect x="339" y="407" width="1" height="1" fill="#4a2000"/><rect x="332" y="406" width="7" height="1" fill="#1cf01c"/><rect x="332" y="405" width="7" height="1" fill="#1cf01c"/><rect x="332" y="405" width="1" height="1" fill="#4a2000"/><rect x="338" y="405" width="1" height="1" fill="#4a2000"/><rect x="333" y="404" width="5" height="1" fill="#1cf01c"/><rect x="333" y="403" width="5" height="1" fill="#1cf01c"/><rect x="333" y="403" width="1" height="1" fill="#4a2000"/><rect x="337" y="403" width="1" height="1" fill="#4a2000"/><rect x="334" y="402" width="3" height="1" fill="#1cf01c"/><rect x="334" y="401" width="3" height="1" fill="#1cf01c"/><rect x="334" y="401" width="1" height="1" fill="#4a2000"/><rect x="336" y="401" width="1" height="1" fill="#4a2000"/><rect x="335" y="400" width="1" height="1" fill="#1cf01c"/></g>
<text x="257.3" y="409.3" textLength="74.1" lengthAdjust="spacingAndGlyphs" font-size="10.4" font-weight="bold" fill="#14783a">10.16.2019 WD</text>
<g shape-rendering="crispEdges"><rect x="779" y="361" width="3" height="1" fill="#801000"/><rect x="779" y="360" width="3" height="1" fill="#801000"/><rect x="780" y="360" width="1" height="1" fill="#e0c878"/><rect x="779" y="359" width="3" height="1" fill="#801000"/><rect x="780" y="359" width="1" height="1" fill="#e0c878"/><rect x="776" y="358" width="9" height="1" fill="#701000"/><rect x="780" y="358" width="1" height="1" fill="#1cf01c"/><rect x="776" y="357" width="9" height="1" fill="#1cf01c"/><rect x="776" y="357" width="1" height="1" fill="#4a2000"/><rect x="784" y="357" width="1" height="1" fill="#4a2000"/><rect x="777" y="356" width="7" height="1" fill="#1cf01c"/><rect x="777" y="355" width="7" height="1" fill="#1cf01c"/><rect x="777" y="355" width="1" height="1" fill="#4a2000"/><rect x="783" y="355" width="1" height="1" fill="#4a2000"/><rect x="778" y="354" width="5" height="1" fill="#1cf01c"/><rect x="778" y="353" width="5" height="1" fill="#1cf01c"/><rect x="778" y="353" width="1" height="1" fill="#4a2000"/><rect x="782" y="353" width="1" height="1" fill="#4a2000"/><rect x="779" y="352" width="3" height="1" fill="#1cf01c"/><rect x="779" y="351" width="3" height="1" fill="#1cf01c"/><rect x="779" y="351" width="1" height="1" fill="#4a2000"/><rect x="781" y="351" width="1" height="1" fill="#4a2000"/><rect x="780" y="350" width="1" height="1" fill="#1cf01c"/></g>
<text x="701.0" y="360.7" textLength="74.8" lengthAdjust="spacingAndGlyphs" font-size="10.4" font-weight="bold" fill="#14783a">02.10.2020 MO</text>
<g shape-rendering="crispEdges"><rect x="863" y="390" width="3" height="1" fill="#801000"/><rect x="863" y="389" width="3" height="1" fill="#801000"/><rect x="864" y="389" width="1" height="1" fill="#e0c878"/><rect x="863" y="388" width="3" height="1" fill="#801000"/><rect x="864" y="388" width="1" height="1" fill="#e0c878"/><rect x="860" y="387" width="9" height="1" fill="#701000"/><rect x="864" y="387" width="1" height="1" fill="#1cf01c"/><rect x="860" y="386" width="9" height="1" fill="#1cf01c"/><rect x="860" y="386" width="1" height="1" fill="#4a2000"/><rect x="868" y="386" width="1" height="1" fill="#4a2000"/><rect x="861" y="385" width="7" height="1" fill="#1cf01c"/><rect x="861" y="384" width="7" height="1" fill="#1cf01c"/><rect x="861" y="384" width="1" height="1" fill="#4a2000"/><rect x="867" y="384" width="1" height="1" fill="#4a2000"/><rect x="862" y="383" width="5" height="1" fill="#1cf01c"/><rect x="862" y="382" width="5" height="1" fill="#1cf01c"/><rect x="862" y="382" width="1" height="1" fill="#4a2000"/><rect x="866" y="382" width="1" height="1" fill="#4a2000"/><rect x="863" y="381" width="3" height="1" fill="#1cf01c"/><rect x="863" y="380" width="3" height="1" fill="#1cf01c"/><rect x="863" y="380" width="1" height="1" fill="#4a2000"/><rect x="865" y="380" width="1" height="1" fill="#4a2000"/><rect x="864" y="379" width="1" height="1" fill="#1cf01c"/></g>
<text x="788.8" y="389.6" textLength="70.9" lengthAdjust="spacingAndGlyphs" font-size="10.4" font-weight="bold" fill="#14783a">03.03.2020 TU</text>
<g shape-rendering="crispEdges"><rect x="1130" y="570" width="3" height="1" fill="#801000"/><rect x="1130" y="569" width="3" height="1" fill="#801000"/><rect x="1131" y="569" width="1" height="1" fill="#e0c878"/><rect x="1130" y="568" width="3" height="1" fill="#801000"/><rect x="1131" y="568" width="1" height="1" fill="#e0c878"/><rect x="1127" y="567" width="9" height="1" fill="#701000"/><rect x="1131" y="567" width="1" height="1" fill="#1cf01c"/><rect x="1127" y="566" width="9" height="1" fill="#1cf01c"/><rect x="1127" y="566" width="1" height="1" fill="#4a2000"/><rect x="1135" y="566" width="1" height="1" fill="#4a2000"/><rect x="1128" y="565" width="7" height="1" fill="#1cf01c"/><rect x="1128" y="564" width="7" height="1" fill="#1cf01c"/><rect x="1128" y="564" width="1" height="1" fill="#4a2000"/><rect x="1134" y="564" width="1" height="1" fill="#4a2000"/><rect x="1129" y="563" width="5" height="1" fill="#1cf01c"/><rect x="1129" y="562" width="5" height="1" fill="#1cf01c"/><rect x="1129" y="562" width="1" height="1" fill="#4a2000"/><rect x="1133" y="562" width="1" height="1" fill="#4a2000"/><rect x="1130" y="561" width="3" height="1" fill="#1cf01c"/><rect x="1130" y="560" width="3" height="1" fill="#1cf01c"/><rect x="1130" y="560" width="1" height="1" fill="#4a2000"/><rect x="1132" y="560" width="1" height="1" fill="#4a2000"/><rect x="1131" y="559" width="1" height="1" fill="#1cf01c"/></g>
<text x="1056.3" y="555.0" textLength="70.4" lengthAdjust="spacingAndGlyphs" font-size="10.4" font-weight="bold" fill="#14783a">05.12.2020 TU</text>
<polyline points="8.0,260.1 10.9,284.3 15.4,255.1 20.0,306.0 22.5,308.5 34.2,280.1 38.4,262.6 42.6,347.6 46.7,273.5 50.1,271.8 60.9,210.9 65.1,217.5 72.6,157.6 76.8,181.8 87.6,211.7 91.8,253.4 95.2,262.6 99.3,235.9 103.5,281.8 114.4,307.7 118.9,250.1 126.5,287.6 129.4,205.6 141.9,206.8 142.2,199.3 145.6,160.9 148.6,171.8 152.8,216.7 171.1,176.8 175.3,147.6 177.3,178.5 180.3,241.7 183.6,278.5 192.0,318.0 198.7,336.7 202.3,329.7 205.3,348.4 209.4,396.0 221.7,351.7 225.3,316.4 226.7,340.0 229.2,365.9 230.9,338.4 235.9,281.8 247.6,246.7 251.4,223.3 253.4,265.1 260.9,330.0 274.3,396.0 279.3,365.1 281.8,347.6 286.0,350.0 289.3,320.5 301.0,340.9 305.5,300.1 308.5,325.5 312.7,318.7 316.9,365.1 327.7,366.8 331.9,415.2 337.7,365.1 339.9,354.7 343.6,360.9 354.4,396.0 361.1,383.5 366.1,338.4 369.4,324.6 381.1,356.8 389.5,316.7 392.0,281.8 396.7,276.4 407.7,299.0 411.0,329.0 412.3,338.0 415.9,319.0 418.4,355.0 423.4,393.5 434.2,393.5 438.4,366.7 442.6,364.2 445.3,343.8 449.2,361.7 461.4,341.4 464.3,348.4 467.9,340.5 472.6,376.8 487.6,394.3 491.0,352.2 495.2,359.2 502.7,323.8 515.2,318.5 518.5,271.4 522.7,281.7 525.2,277.6 529.4,327.6 541.9,326.0 544.4,320.1 549.4,275.9 556.9,279.2 571.1,308.4 579.4,293.4 582.7,318.5 594.3,272.5 597.5,234.0 597.5,213.5 601.7,191.8 605.4,177.6 609.4,198.0 621.5,163.8 624.6,166.4 632.1,160.1 636.1,178.4 647.2,177.8 649.0,173.0 651.5,150.6 653.6,178.0 656.3,213.5 659.3,244.2 662.6,218.5 674.3,266.7 679.3,225.0 681.5,196.8 685.2,213.5 689.4,221.0 703.5,194.3 708.5,193.4 712.2,215.1 716.6,184.3 727.8,201.8 731.1,244.2 735.3,203.5 738.6,208.5 742.8,193.4 753.9,224.6 758.6,236.8 762.0,237.0 765.7,216.0 769.5,243.5 780.2,216.8 788.4,232.6 791.7,216.8 796.7,213.4 808.4,165.0 811.7,133.5 814.7,97.6 818.1,108.4 820.9,78.4 823.1,62.5 834.3,64.2 835.1,80.1 836.8,108.4 838.4,150.2 841.8,148.5 843.5,191.7 845.1,255.0 846.5,280.0 846.8,313.4 847.6,351.7 849.3,404.3 860.5,322.0 864.3,266.0 868.1,246.0 872.1,218.4 876.0,247.7" fill="none" stroke="#000" stroke-width="3.4" stroke-linejoin="round" stroke-linecap="round" shape-rendering="crispEdges"/>
<polyline points="0.0,27.5 7.6,20.5 11.4,12.0 12.3,28.0 13.6,49.3 14.2,66.8 15.4,91.0 20.0,97.7 23.0,120.9 34.2,149.2 39.2,132.5 42.1,106.7 45.1,132.5 49.4,152.0 60.9,17.0 64.7,37.5 68.6,46.4 72.1,40.6 76.5,58.4 88.5,47.6 91.4,38.0 95.3,170.1 99.3,163.4 115.2,174.3 118.5,191.8 122.4,178.5 126.0,188.5 129.9,204.3 141.6,198.5 143.6,205.0 147.7,209.2 152.3,235.9 172.0,196.5 172.3,210.0 175.3,271.8 182.8,306.0 192.0,317.5 202.8,340.1 209.4,390.2 221.4,337.6 225.0,352.6 229.2,353.4 232.6,362.6 236.4,391.0 251.8,326.7 255.1,335.9 259.3,329.2 263.1,329.7 275.1,355.1 279.3,350.1 281.8,358.4 286.0,360.1 289.3,369.3 301.0,344.2 304.3,345.9 308.5,363.4 312.7,368.4 316.9,367.6 331.9,399.3 336.0,399.3 338.6,368.4 354.4,333.4 358.6,331.7 362.3,318.4 365.3,320.9 381.1,306.8 384.5,289.8 388.6,289.8 392.0,328.4 396.2,321.7 407.8,315.5 411.6,351.8 414.7,308.4 419.2,300.9 423.4,328.5 434.2,358.4 438.4,335.5 441.7,336.8 445.1,332.8 449.2,345.1 461.8,346.3 464.9,355.1 467.6,337.5 472.6,332.7 476.5,312.6 487.6,378.4 495.2,374.3 502.2,378.8 514.3,321.8 522.7,331.8 526.5,331.0 530.2,302.6 541.1,265.9 544.9,291.8 551.9,267.5 556.1,292.6 567.8,260.9 575.2,275.1 579.4,242.5 583.4,236.8 595.0,231.8 597.5,175.9 600.0,175.4 609.2,201.0 620.9,159.2 624.3,172.6 632.1,155.9 636.4,165.9 647.1,141.7 651.0,165.1 656.0,206.0 660.2,204.3 661.8,263.4 674.3,281.8 678.5,281.8 681.5,244.0 689.4,269.2 704.4,213.5 707.7,216.8 711.9,235.1 716.9,235.5 726.9,301.8 731.1,301.0 735.3,324.3 739.0,316.8 742.8,321.8 755.3,306.8 758.6,306.8 762.0,316.0 765.7,316.0 770.3,332.3 780.9,350.2 784.7,349.3 788.4,297.6 791.7,274.2 796.7,266.7 811.7,231.8 815.4,230.1 818.4,270.0 822.6,241.8 834.3,271.7 836.8,284.2 841.8,284.2 849.6,304.5 860.5,350.0 864.3,379.2 875.2,320.1 886.9,275.0 891.0,290.1 895.2,264.0 898.2,285.1 902.7,285.1 916.9,278.4 921.9,285.9 925.3,320.1 929.0,333.5 940.4,221.0 944.2,163.0 948.1,160.9 952.3,192.6 967.8,185.1 971.6,231.7 975.0,237.2 978.4,201.7 982.7,205.9 994.2,310.1 1000.9,250.9 1004.7,250.9 1009.2,272.6 1020.4,251.8 1028.4,322.6 1031.8,325.9 1035.1,318.7 1046.8,324.3 1051.0,310.1 1054.3,310.1 1058.5,324.3 1062.2,328.1 1073.9,225.9 1076.9,251.8 1081.0,261.0 1089.4,226.4 1100.2,240.1 1104.4,228.7 1106.1,268.0 1107.7,335.1 1108.3,370.3 1112.4,372.2 1115.9,383.4 1127.6,460.2 1128.2,481.7 1129.2,510.1 1131.4,557.7 1138.4,539.3 1142.5,541.8 1153.4,444.3 1157.6,442.6 1161.5,432.6 1169.3,486.7 1181.0,428.8 1184.8,428.8 1188.8,463.5 1192.7,463.5 1195.2,441.8 1207.4,418.8 1212.2,430.9 1214.4,497.6 1217.7,500.1 1222.7,507.6 1232.7,500.9 1236.9,500.6 1241.9,508.4" fill="none" stroke="#14e614" stroke-width="2" stroke-linejoin="round" stroke-linecap="round"/>
<circle cx="876.1" cy="248.1" r="2.6" fill="#fff" stroke="#000" stroke-width="2.6"/>
<text x="883.5" y="251.8" font-size="10.5" fill="#222">40.12</text>
<g transform="translate(56.9,592.2) rotate(-55) scale(1.255,1)" fill="#484848" stroke="#484848" stroke-width="0.15"><text x="-10.84" y="0" text-anchor="end" font-size="19.5">Aug.0</text><path transform="translate(-10.84,0) scale(0.009521,-0.009521)" stroke-width="15.8" d="M763 0H583V1147Q518 1085 412.5 1023T223 930V1104Q373 1174.5 485.5 1275T645 1470H763Z"/></g>
<g transform="translate(174.9,592.2) rotate(-55) scale(1.255,1)" fill="#484848" stroke="#484848" stroke-width="0.15"><text x="-10.84" y="0" text-anchor="end" font-size="19.5">Sep.0</text><path transform="translate(-10.84,0) scale(0.009521,-0.009521)" stroke-width="15.8" d="M763 0H583V1147Q518 1085 412.5 1023T223 930V1104Q373 1174.5 485.5 1275T645 1470H763Z"/></g>
<g transform="translate(288.9,592.2) rotate(-55) scale(1.255,1)" fill="#484848" stroke="#484848" stroke-width="0.15"><text x="-10.84" y="0" text-anchor="end" font-size="19.5">Oct.0</text><path transform="translate(-10.84,0) scale(0.009521,-0.009521)" stroke-width="15.8" d="M763 0H583V1147Q518 1085 412.5 1023T223 930V1104Q373 1174.5 485.5 1275T645 1470H763Z"/></g>
<g transform="translate(406.9,592.2) rotate(-55) scale(1.255,1)" fill="#484848" stroke="#484848" stroke-width="0.15"><text x="-10.84" y="0" text-anchor="end" font-size="19.5">Nov.0</text><path transform="translate(-10.84,0) scale(0.009521,-0.009521)" stroke-width="15.8" d="M763 0H583V1147Q518 1085 412.5 1023T223 930V1104Q373 1174.5 485.5 1275T645 1470H763Z"/></g>
<g transform="translate(520.9,592.2) rotate(-55) scale(1.255,1)" fill="#484848" stroke="#484848" stroke-width="0.15"><text x="-10.84" y="0" text-anchor="end" font-size="19.5">Dec.0</text><path transform="translate(-10.84,0) scale(0.009521,-0.009521)" stroke-width="15.8" d="M763 0H583V1147Q518 1085 412.5 1023T223 930V1104Q373 1174.5 485.5 1275T645 1470H763Z"/></g>
<text transform="translate(638.9,592.2) rotate(-55) scale(1.255,1)" text-anchor="end" font-size="19.5" font-weight="bold" fill="#800000" stroke="#800000" stroke-width="0.5">2020</text>
<g transform="translate(756.9,592.2) rotate(-55) scale(1.255,1)" fill="#484848" stroke="#484848" stroke-width="0.15"><text x="-10.84" y="0" text-anchor="end" font-size="19.5">Feb.0</text><path transform="translate(-10.84,0) scale(0.009521,-0.009521)" stroke-width="15.8" d="M763 0H583V1147Q518 1085 412.5 1023T223 930V1104Q373 1174.5 485.5 1275T645 1470H763Z"/></g>
<g transform="translate(867.9,592.2) rotate(-55) scale(1.255,1)" fill="#484848" stroke="#484848" stroke-width="0.15"><text x="-10.84" y="0" text-anchor="end" font-size="19.5">Mar.0</text><path transform="translate(-10.84,0) scale(0.009521,-0.009521)" stroke-width="15.8" d="M763 0H583V1147Q518 1085 412.5 1023T223 930V1104Q373 1174.5 485.5 1275T645 1470H763Z"/></g>
<g transform="translate(985.9,592.2) rotate(-55) scale(1.255,1)" fill="#484848" stroke="#484848" stroke-width="0.15"><text x="-10.84" y="0" text-anchor="end" font-size="19.5">Apr.0</text><path transform="translate(-10.84,0) scale(0.009521,-0.009521)" stroke-width="15.8" d="M763 0H583V1147Q518 1085 412.5 1023T223 930V1104Q373 1174.5 485.5 1275T645 1470H763Z"/></g>
<g transform="translate(1099.9,592.2) rotate(-55) scale(1.255,1)" fill="#484848" stroke="#484848" stroke-width="0.15"><text x="-10.84" y="0" text-anchor="end" font-size="19.5">May.0</text><path transform="translate(-10.84,0) scale(0.009521,-0.009521)" stroke-width="15.8" d="M763 0H583V1147Q518 1085 412.5 1023T223 930V1104Q373 1174.5 485.5 1275T645 1470H763Z"/></g>
<g transform="translate(1217.9,592.2) rotate(-55) scale(1.255,1)" fill="#484848" stroke="#484848" stroke-width="0.15"><text x="-10.84" y="0" text-anchor="end" font-size="19.5">Jun.0</text><path transform="translate(-10.84,0) scale(0.009521,-0.009521)" stroke-width="15.8" d="M763 0H583V1147Q518 1085 412.5 1023T223 930V1104Q373 1174.5 485.5 1275T645 1470H763Z"/></g>
</svg>
</body></html>
